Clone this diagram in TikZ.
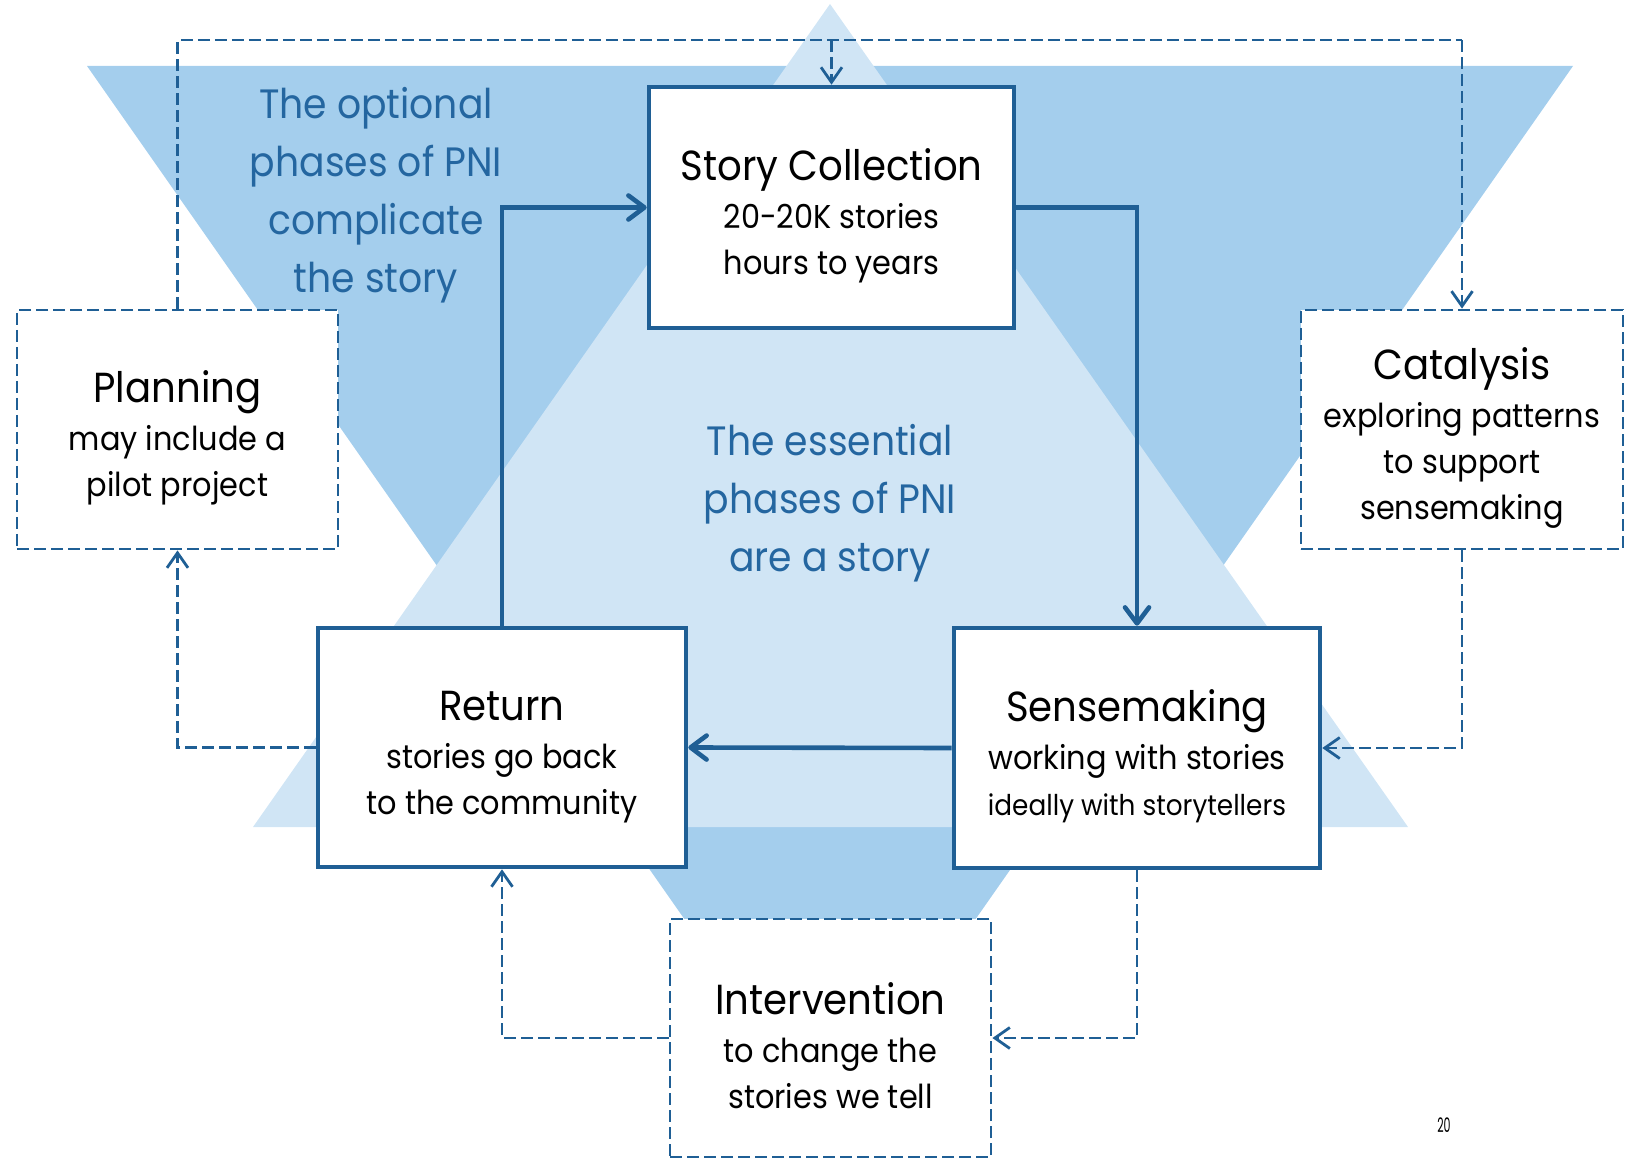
\documentclass[tikz,border=0pt]{standalone}
\usepackage{fontspec}
\setmainfont{Poppins}[FakeStretch=0.92]
\usetikzlibrary{arrows.meta}
\definecolor{tri}{HTML}{A4CEED}
\definecolor{trilight}{HTML}{D0E5F5}
\definecolor{pni}{HTML}{1F5F95}
\definecolor{phasetext}{HTML}{2466A0}
\newcommand\phasetitle{\fontsize{21}{24}\selectfont}
\newcommand\phasesub{\fontsize{16.5}{23}\selectfont}
\newcommand\phasehead[1]{{\phasetitle\rule{0pt}{24pt}#1}}
\begin{document}
\begin{tikzpicture}[x=0.5pt,y=-0.5pt,
  core/.style={draw=pni, line width=2.3pt, fill=white, inner sep=0pt, align=center,
    font=\phasesub},
  optional/.style={draw=pni, line width=1.4pt, dash pattern=on 6pt off 2.5pt, fill=white,
    inner sep=0pt, align=center, font=\phasesub},
  flow/.style={draw=pni, line width=2.3pt,
    -{Straight Barb[length=8pt,width=12pt,line width=2.3pt,round]}},
  sideflow/.style={draw=pni, line width=1.4pt, dash pattern=on 6pt off 2.5pt,
    -{Straight Barb[length=7.5pt,width=10.5pt,line width=1.4pt]}},
  sideline/.style={draw=pni, line width=1.4pt, dash pattern=on 6pt off 2.5pt},
  bigtext/.style={text=phasetext, align=center, font=\fontsize{20.5}{29}\selectfont}]
\useasboundingbox (0,0) rectangle (1636,1159);

% background triangles
\fill[tri] (87,66) -- (1573,66) -- (830,1127) -- cycle;
\fill[trilight] (830,4) -- (1408,827) -- (253,827) -- cycle;

% essential phases
\node[core, minimum width=182.5pt, minimum height=120.5pt] (story) at (831.5,207.5)
  {\phasehead{Story Collection}\\[1pt] 20-20K stories\\ hours to years};
\node[core, minimum width=183pt, minimum height=120pt] (sense) at (1137,748)
  {\phasehead{Sensemaking}\\[1pt] working with stories\\ {\fontsize{14.3}{20}\selectfont ideally with storytellers}};
\node[core, minimum width=184pt, minimum height=119.5pt] (ret) at (502,747.5)
  {\phasehead{Return}\\[1pt] stories go back\\ to the community};

% optional phases
\node[optional, minimum width=160.5pt, minimum height=119.5pt] (plan) at (177.5,429.5)
  {\phasehead{Planning}\\[1pt] may include a\\ pilot project};
\node[optional, minimum width=161pt, minimum height=119.5pt] (cat) at (1462,429.5)
  {\phasehead{Catalysis}\\[1pt] exploring patterns\\ to support\\ sensemaking};
\node[optional, minimum width=160.5pt, minimum height=119pt] (int) at (830.5,1038)
  {\phasehead{Intervention}\\[1pt] to change the\\ stories we tell};

% captions
\node[bigtext] (optcap) at (376,195) {The optional\\ phases of PNI\\ complicate\\ the story};
\node[bigtext] (esscap) at (830,503) {The essential\\ phases of PNI\\ are a story};
\node[font=\fontsize{10}{12}\selectfont] (page) at (1444,1125) {\scalebox{0.6}[1]{20}};

% core cycle
\draw[flow] (ret.north) |- (story.west);
\draw[flow] (story.east) -| (sense.north);
\draw[flow] (sense.west) -- (ret.east);

% optional links
\coordinate (topleft) at (177.5,40);
\coordinate (topright) at (1462,40);
\draw[sideline] (plan.north) -- (topleft) -- (topright);
\draw[sideflow] (topright) -- (cat.north);
\draw[sideflow] (story.north |- topleft) -- (story.north);
\draw[sideflow] (cat.south) |- (sense.east);
\draw[sideflow] (ret.west) -| (plan.south);
\draw[sideflow] (sense.south) |- (int.east);
\draw[sideflow] (int.west) -| (ret.south);
\end{tikzpicture}
\end{document}
